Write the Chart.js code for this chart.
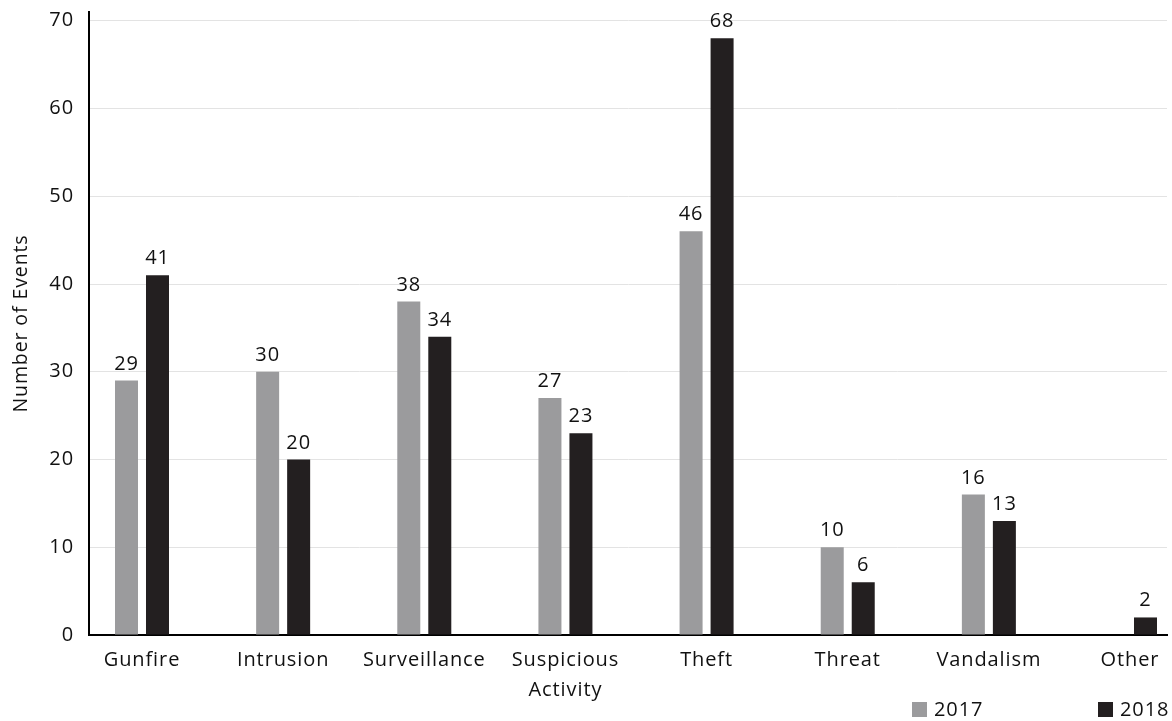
<!DOCTYPE html>
<html>
<head>
<meta charset="utf-8">
<script src="https://cdn.jsdelivr.net/npm/chart.js@4/dist/chart.umd.min.js"></script>
<style>
  body { margin: 0; background: #fff; }
  #wrap { width: 1172px; height: 721px; position: relative; }
</style>
</head>
<body>
<div id="wrap"><canvas id="eventschart"></canvas></div>
<script>
// categories and counts
var categories = ["Gunfire", "Intrusion", "Surveillance", ["Suspicious", "Activity"], "Theft", "Threat", "Vandalism", "Other"];
var events2017 = [29, 30, 38, 27, 46, 10, 16, null];
var events2018 = [41, 20, 34, 23, 68, 6, 13, 2];
var yTicks = [0, 10, 20, 30, 40, 50, 60, 70];

var FONT = "'Open Sans', 'Noto Sans', sans-serif";
var SPACING = "0.9px";

var toPoints = function(arr) {
  return arr.map(function(v, i) { return {x: i, y: v}; });
};

// the source font is a bit wider than Open Sans, so open up the letters
var spacing = {
  id: 'spacing',
  beforeUpdate: function(chart) { chart.ctx.letterSpacing = SPACING; },
  beforeDraw: function(chart) { chart.ctx.letterSpacing = SPACING; }
};

// numbers above each bar
var barLabels = {
  id: 'barLabels',
  afterDatasetsDraw: function(chart) {
    var ctx = chart.ctx;
    ctx.save();
    ctx.font = "20px " + FONT;
    ctx.fillStyle = "#111";
    ctx.textAlign = "center";
    ctx.textBaseline = "alphabetic";
    chart.data.datasets.forEach(function(ds, di) {
      var meta = chart.getDatasetMeta(di);
      meta.data.forEach(function(bar, i) {
        var v = ds.data[i].y;
        if (v === null) return;
        ctx.fillText(String(v), bar.x, bar.y - 11);
      });
    });
    ctx.restore();
  }
};

// legend sits far apart at the bottom right, so draw it by hand
var cornerLegend = {
  id: 'cornerLegend',
  afterDraw: function(chart) {
    var ctx = chart.ctx;
    var spots = [912, 1098];
    ctx.save();
    ctx.font = "20px " + FONT;
    ctx.textBaseline = "middle";
    chart.data.datasets.forEach(function(ds, di) {
      var x = spots[di];
      ctx.fillStyle = ds.backgroundColor;
      ctx.fillRect(x, 702, 15, 15);
      ctx.fillStyle = "#111";
      ctx.fillText(ds.label, x + 22, 710);
    });
    ctx.restore();
  }
};

var cty = document.getElementById("eventschart").getContext("2d");
var eventschart = new Chart(cty, {
  type: 'bar',
  data: {
    datasets: [
      {
        label: "2017",
        data: toPoints(events2017),
        backgroundColor: "#9b9b9d",
        categoryPercentage: 0.4393,
        barPercentage: 0.742
      },
      {
        label: "2018",
        data: toPoints(events2018),
        backgroundColor: "#231f20",
        categoryPercentage: 0.4393,
        barPercentage: 0.742
      }
    ]
  },
  options: {
    responsive: true,
    maintainAspectRatio: false,
    animation: false,
    layout: { padding: { top: 12, right: 5, left: 0, bottom: 0 } },
    plugins: {
      legend: { display: false },
      tooltip: { enabled: false }
    },
    scales: {
      x: {
        type: 'linear',
        offset: false,
        min: -0.3755,
        max: 7.262,
        grid: { display: false, drawTicks: false, offset: false },
        border: { display: true, color: "#000", width: 2 },
        afterBuildTicks: function(scale) {
          scale.ticks = categories.map(function(c, i) { return {value: i}; });
        },
        afterFit: function(scale) { scale.height = 86; },
        ticks: {
          color: "#111",
          font: { family: FONT, size: 20, lineHeight: 1.5 },
          padding: 10,
          maxRotation: 0,
          autoSkip: false,
          callback: function(v) { return categories[v]; }
        }
      },
      y: {
        min: 0,
        max: 71,   // axis line runs a little past the 70 gridline
        afterBuildTicks: function(scale) {
          scale.ticks = yTicks.map(function(v) { return {value: v}; });
        },
        afterFit: function(scale) {
          scale.width = 89;
          // tick padding otherwise pushes the plot top down
          scale.paddingTop = 0;
          scale.paddingBottom = 0;
        },
        grid: { color: "#e3e3e3", lineWidth: 1, drawTicks: false },
        border: { display: true, color: "#000", width: 2 },
        ticks: {
          color: "#111",
          font: { family: FONT, size: 20 },
          padding: 15
        },
        title: {
          display: true,
          text: "Number of Events",
          color: "#111",
          font: { family: FONT, size: 19.5 },
          padding: { top: 10, bottom: 0 }
        }
      }
    }
  },
  plugins: [spacing, barLabels, cornerLegend]
});
</script>
</body>
</html>
